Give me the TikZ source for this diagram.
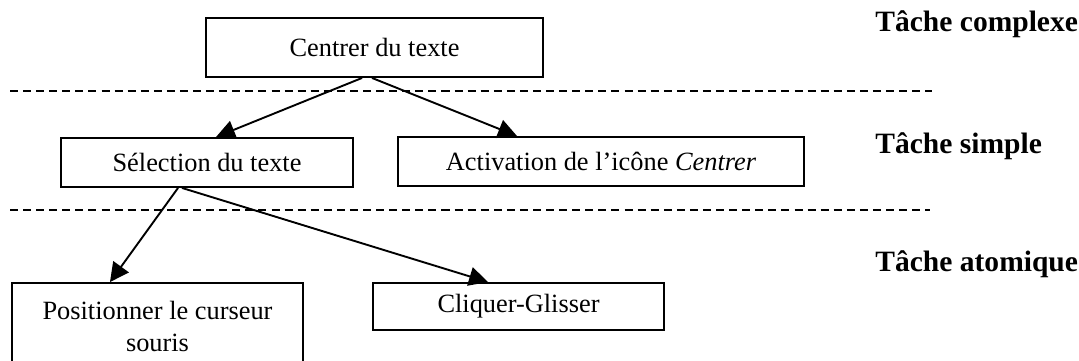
\documentclass[tikz,border=0pt]{standalone}
\usepackage{fontspec}
\setmainfont{Liberation Serif}
\usetikzlibrary{arrows.meta}

\begin{document}
\begin{tikzpicture}[
    boite/.style={shape=rectangle, draw=black, line width=0.9pt, inner sep=0pt, align=center, font=\fontsize{12.5}{15.5}\selectfont},
    fleche/.style={-{Triangle[length=9pt,width=9pt]}, line width=0.9pt},
    niveau/.style={draw=black, line width=0.9pt, dash pattern=on 3.8pt off 2.4pt},
    etiquette/.style={anchor=west, inner sep=0pt, font=\fontsize{14}{16}\bfseries\selectfont}]
    \useasboundingbox (0,0) rectangle (17.983,6);
    % les taches
    \node[boite, minimum width=5.617cm, minimum height=0.983cm] at (6.242,5.208) (centrer) {Centrer du texte};
    \node[boite, minimum width=4.867cm, minimum height=0.817cm] at (3.45,3.292) (selection) {Sélection du texte};
    \node[boite, minimum width=6.767cm, minimum height=0.817cm] at (10.017,3.308) (activation) {Activation de l'icône \textit{Centrer}};
    \node[boite, minimum width=4.85cm, minimum height=1.45cm] at (2.625,0.558) (positionner) {Positionner le curseur\\souris};
    \node[boite, minimum width=4.85cm, minimum height=0.783cm] at (8.642,0.892) (cliquer) {Cliquer-Glisser};
    % les niveaux
    \node[etiquette] at (14.583,5.6) (complexe) {Tâche complexe};
    \node[etiquette] at (14.583,3.57) (simple) {Tâche simple};
    \node[etiquette] at (14.583,1.6) (atomique) {Tâche atomique};
    \coordinate (n1g) at (0.167,4.483);
    \coordinate (n1d) at (15.533,4.483);
    \coordinate (n2g) at (0.167,2.5);
    \coordinate (n2d) at (15.5,2.5);
    \draw[niveau] (n1g) -- (n1d);
    \draw[niveau] (n2g) -- (n2d);
    % les fleches
    \path [fleche] ([xshift=-0.208cm]centrer.south) edge ([xshift=0.15cm]selection.north);
    \path [fleche] ([xshift=-0.042cm]centrer.south) edge ([xshift=-1.4cm]activation.north);
    \path [fleche] ([xshift=-0.483cm]selection.south) edge ([xshift=-0.792cm]positionner.north);
    \path [fleche] ([xshift=-0.417cm]selection.south) edge ([xshift=-0.508cm]cliquer.north);
\end{tikzpicture}
\end{document}
